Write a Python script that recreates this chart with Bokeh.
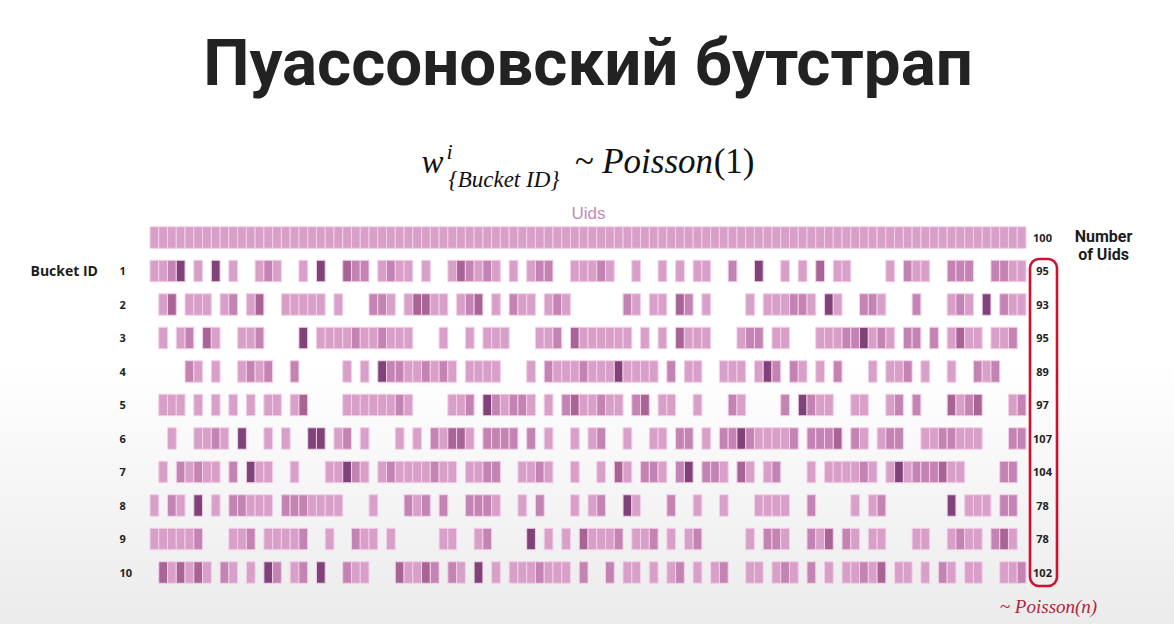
from bokeh.plotting import figure
from bokeh.models import Range1d, ColumnDataSource, BoxAnnotation
from bokeh.core.properties import value
from bokeh.embed import file_html
from bokeh.resources import INLINE

# ---------------- data ----------------
title_text = "Пуассоновский бутстрап"
bucket_ids = ["1", "2", "3", "4", "5", "6", "7", "8", "9", "10"]
uid_counts = ["100", "95", "93", "95", "89", "97", "107", "104", "78", "78", "102"]

uids_row = [1, 1, 1, 1, 1, 1, 1, 1, 1, 1,  1, 1, 1, 1, 1, 1, 1, 1, 1, 1,
            1, 1, 1, 1, 1, 1, 1, 1, 1, 1,  1, 1, 1, 1, 1, 1, 1, 1, 1, 1,
            1, 1, 1, 1, 1, 1, 1, 1, 1, 1,  1, 1, 1, 1, 1, 1, 1, 1, 1, 1,
            1, 1, 1, 1, 1, 1, 1, 1, 1, 1,  1, 1, 1, 1, 1, 1, 1, 1, 1, 1,
            1, 1, 1, 1, 1, 1, 1, 1, 1, 1,  1, 1, 1, 1, 1, 1, 1, 1, 1, 1]

bucket_1 = [1, 1, 2, 4, 0, 1, 0, 4, 0, 1,  0, 0, 1, 2, 1, 0, 0, 1, 0, 4,
            0, 0, 3, 2, 2, 0, 1, 2, 1, 1,  0, 1, 0, 0, 1, 3, 2, 1, 2, 1,
            0, 1, 0, 1, 2, 2, 0, 0, 1, 1,  1, 2, 1, 0, 0, 1, 0, 0, 1, 0,
            1, 0, 1, 1, 0, 0, 2, 0, 0, 4,  0, 0, 1, 0, 1, 0, 3, 0, 1, 1,
            0, 0, 0, 0, 1, 0, 2, 1, 1, 0,  0, 2, 2, 2, 0, 0, 2, 2, 1, 1]
bucket_2 = [0, 1, 3, 0, 1, 1, 1, 0, 1, 2,  0, 1, 3, 0, 0, 1, 1, 1, 1, 1,
            0, 1, 0, 0, 0, 2, 2, 1, 0, 1,  3, 3, 1, 1, 0, 1, 2, 3, 0, 1,
            0, 2, 1, 1, 0, 1, 2, 1, 0, 0,  0, 0, 0, 0, 2, 1, 0, 1, 1, 0,
            3, 2, 0, 1, 0, 0, 0, 0, 1, 0,  1, 1, 1, 2, 2, 1, 0, 4, 1, 0,
            0, 2, 2, 1, 0, 0, 0, 2, 0, 0,  0, 1, 2, 1, 0, 4, 0, 2, 1, 1]
bucket_3 = [0, 1, 0, 1, 2, 0, 3, 1, 0, 0,  1, 1, 2, 0, 0, 0, 0, 4, 0, 1,
            1, 1, 1, 2, 1, 1, 2, 1, 1, 1,  0, 0, 0, 1, 0, 0, 1, 0, 1, 1,
            1, 0, 0, 0, 1, 1, 2, 0, 3, 1,  1, 1, 1, 1, 1, 0, 1, 0, 1, 0,
            3, 1, 1, 1, 0, 0, 0, 1, 2, 2,  0, 1, 1, 0, 0, 0, 1, 1, 1, 2,
            2, 4, 1, 2, 1, 0, 2, 2, 0, 2,  0, 1, 3, 1, 1, 0, 1, 1, 2, 0]
bucket_4 = [0, 0, 0, 0, 2, 1, 0, 1, 0, 0,  1, 2, 1, 2, 0, 0, 2, 0, 0, 0,
            0, 0, 1, 0, 1, 0, 4, 2, 2, 1,  1, 2, 1, 2, 1, 0, 1, 1, 1, 1,
            0, 0, 0, 1, 0, 2, 1, 1, 1, 2,  1, 1, 1, 4, 1, 1, 1, 1, 0, 2,
            0, 1, 1, 0, 0, 1, 1, 1, 0, 1,  4, 2, 0, 2, 1, 0, 1, 0, 2, 0,
            0, 0, 1, 0, 1, 1, 2, 0, 1, 0,  0, 1, 0, 0, 2, 1, 2, 0, 0, 0]
bucket_5 = [0, 1, 1, 1, 0, 1, 0, 1, 0, 1,  0, 1, 0, 1, 1, 0, 1, 3, 0, 0,
            0, 0, 1, 1, 1, 1, 1, 1, 2, 1,  0, 0, 0, 0, 1, 1, 2, 0, 4, 2,
            1, 2, 2, 1, 0, 1, 0, 2, 3, 1,  1, 2, 1, 1, 0, 2, 3, 0, 1, 1,
            0, 0, 1, 0, 0, 0, 2, 1, 0, 0,  0, 0, 2, 0, 4, 2, 1, 1, 0, 0,
            1, 1, 0, 0, 1, 2, 0, 2, 0, 0,  0, 3, 1, 2, 3, 0, 0, 0, 1, 2]
bucket_6 = [0, 0, 1, 0, 0, 1, 1, 2, 1, 0,  4, 0, 0, 1, 0, 1, 0, 0, 4, 4,
            0, 1, 2, 0, 1, 0, 0, 0, 1, 0,  1, 0, 2, 1, 3, 3, 1, 0, 2, 2,
            2, 2, 0, 2, 0, 1, 0, 0, 1, 0,  1, 2, 0, 0, 1, 0, 0, 1, 1, 0,
            2, 2, 0, 1, 0, 2, 2, 4, 2, 1,  1, 1, 1, 2, 0, 2, 2, 2, 3, 0,
            2, 1, 0, 1, 2, 2, 0, 0, 1, 1,  2, 2, 1, 1, 1, 0, 0, 0, 2, 2]
bucket_7 = [0, 1, 0, 2, 1, 2, 1, 1, 0, 2,  0, 4, 1, 1, 0, 0, 1, 0, 0, 0,
            1, 1, 4, 2, 1, 0, 1, 2, 1, 1,  1, 1, 2, 1, 1, 0, 1, 1, 2, 2,
            0, 0, 1, 1, 2, 1, 0, 0, 1, 0,  0, 1, 0, 3, 1, 0, 2, 2, 1, 0,
            2, 4, 0, 2, 2, 1, 0, 3, 1, 0,  1, 2, 0, 0, 0, 1, 0, 1, 1, 1,
            1, 2, 1, 0, 1, 4, 1, 2, 2, 2,  3, 1, 1, 0, 0, 0, 0, 2, 2, 0]
bucket_8 = [1, 0, 2, 1, 0, 4, 0, 1, 0, 2,  2, 1, 1, 1, 0, 2, 2, 2, 1, 1,
            1, 1, 0, 0, 0, 1, 0, 0, 0, 2,  1, 2, 0, 2, 0, 0, 2, 2, 2, 1,
            0, 0, 1, 0, 2, 0, 0, 0, 1, 0,  1, 2, 0, 0, 4, 1, 0, 0, 0, 2,
            0, 0, 1, 0, 0, 1, 0, 0, 0, 1,  1, 1, 1, 0, 0, 2, 0, 0, 0, 0,
            1, 0, 1, 2, 0, 0, 0, 0, 0, 0,  0, 4, 0, 1, 1, 1, 0, 2, 2, 0]
bucket_9 = [1, 1, 1, 1, 1, 2, 0, 0, 0, 1,  1, 2, 0, 1, 1, 1, 1, 2, 0, 0,
            1, 0, 0, 2, 1, 1, 0, 1, 0, 0,  0, 0, 0, 1, 1, 0, 0, 1, 2, 0,
            0, 0, 0, 4, 0, 1, 0, 1, 0, 3,  1, 1, 1, 2, 0, 1, 1, 2, 0, 1,
            0, 1, 2, 0, 0, 0, 0, 0, 1, 0,  2, 2, 1, 0, 0, 2, 1, 3, 0, 2,
            1, 0, 1, 1, 0, 0, 0, 1, 1, 0,  0, 1, 2, 1, 1, 0, 2, 3, 1, 0]
bucket_10 = [0, 3, 1, 3, 1, 3, 1, 0, 2, 1,  0, 1, 0, 4, 2, 0, 1, 2, 0, 4,
             0, 0, 2, 1, 1, 0, 0, 0, 3, 1,  1, 3, 2, 0, 2, 1, 0, 4, 0, 1,
             0, 1, 1, 1, 2, 1, 1, 1, 0, 2,  0, 0, 2, 0, 1, 1, 0, 1, 0, 1,
             2, 0, 1, 0, 1, 2, 0, 0, 1, 1,  0, 1, 2, 1, 0, 2, 0, 1, 0, 1,
             1, 2, 1, 3, 0, 1, 1, 0, 1, 0,  2, 1, 0, 1, 1, 0, 0, 1, 1, 2]

rows = [uids_row, bucket_1, bucket_2, bucket_3, bucket_4, bucket_5,
        bucket_6, bucket_7, bucket_8, bucket_9, bucket_10]

weight_colors = {1: "#d8a0c9", 2: "#c383b3", 3: "#a76495", 4: "#7f4379"}

# ---------------- geometry helpers (pixel -> data) ----------------
W, H = 1174, 624
CW = 8.76          # px per uid column
X0 = 149.5         # px of column 0 left edge
RP = 33.5          # px per row
Y0 = 237.0         # px of row 0 centre
BL = 0.40          # empirical baseline correction (fraction of font size)


def px(xp):
    return (xp - X0) / CW


def py(yp):
    return (yp - Y0) / RP


def pyb(yp, size):
    # desired alphabetic baseline at pixel yp for a font of `size` px
    return py(yp - BL * size)


p = figure(width=W, height=H, output_backend="svg", toolbar_location=None,
           x_range=Range1d(px(0), px(W)), y_range=Range1d(py(H), py(0)),
           min_border=0, x_axis_location=None, y_axis_location=None)
p.grid.visible = False
p.outline_line_color = None
p.background_fill_color = None
p.border_fill_color = None
p.styles = {"background": "linear-gradient(to bottom, #ffffff 0%, #ffffff 58%, #ebebeb 100%)"}

# cells
xs, ys, cols = [], [], []
for r, row in enumerate(rows):
    for c, w in enumerate(row):
        if w > 0:
            xs.append(c + 0.5)
            ys.append(r)
            cols.append(weight_colors[min(w, 4)])
src = ColumnDataSource(dict(x=xs, y=ys, color=cols))
p.rect(x="x", y="y", width=1.0, height=21.5 / RP, fill_color="color",
       line_color="#f3cfe8", line_width=1, source=src)

# bucket id labels
p.text(x=[px(119)] * len(bucket_ids), y=list(range(1, len(bucket_ids) + 1)),
       text=bucket_ids, text_font=value("Open Sans"), text_font_size="11px",
       text_font_style="bold", text_color="#222222",
       text_align="left", text_baseline="middle")

# counts on the right
p.text(x=[px(1042)] * len(uid_counts), y=list(range(len(uid_counts))),
       text=uid_counts, text_font=value("Open Sans"), text_font_size="11px",
       text_font_style="bold", text_color="#222222",
       text_align="center", text_baseline="middle")

# title
p.text(x=[px(587.5)], y=[pyb(88, 65.5)], text=[title_text],
       text_font=value("Roboto"), text_font_size="65.5px", text_font_style="bold",
       text_color="#222222", text_align="center", text_baseline="alphabetic")

# formula  w^i_{Bucket ID} ~ Poisson(1)
p.text(x=[px(421)], y=[pyb(175, 33)], text=["w"], text_font=value("Liberation Serif"),
       text_font_size="33px", text_font_style="italic", text_color="#111111",
       text_align="left", text_baseline="alphabetic")
p.text(x=[px(446)], y=[pyb(160, 22)], text=["i"], text_font=value("Liberation Serif"),
       text_font_size="22px", text_font_style="italic", text_color="#111111",
       text_align="left", text_baseline="alphabetic")
p.text(x=[px(448)], y=[pyb(188, 23)], text=["{Bucket ID}"], text_font=value("Liberation Serif"),
       text_font_size="23px", text_font_style="italic", text_color="#111111",
       text_align="left", text_baseline="alphabetic")
p.text(x=[px(574)], y=[pyb(175, 35)], text=["~ Poisson"], text_font=value("Liberation Serif"),
       text_font_size="35px", text_font_style="italic", text_color="#111111",
       text_align="left", text_baseline="alphabetic")
p.text(x=[px(754)], y=[pyb(175, 35)], text=["(1)"], text_font=value("Liberation Serif"),
       text_font_size="35px", text_color="#111111",
       text_align="right", text_baseline="alphabetic")

# Uids header
p.text(x=[px(588)], y=[py(213)], text=["Uids"], text_font=value("Liberation Sans"),
       text_font_size="17px", text_color="#c48ab6",
       text_align="center", text_baseline="middle")

# Bucket ID label
p.text(x=[px(30)], y=[py(270)], text=["Bucket ID"], text_font=value("Open Sans"),
       text_font_size="14px", text_font_style="bold", text_color="#1c1c1c",
       text_align="left", text_baseline="middle")

# Number of Uids
p.text(x=[px(1103), px(1103)], y=[py(236), py(254)], text=["Number", "of Uids"],
       text_font=value("Roboto"), text_font_size="16px", text_font_style="bold",
       text_color="#1c1c1c", text_align="center", text_baseline="middle")

# red rounded box around counts
box = BoxAnnotation(left=px(1029.5), right=px(1056.5), top=py(258.5), bottom=py(585.5),
                    fill_alpha=0, line_color="#cc1230", line_alpha=1.0, line_width=2.6,
                    border_radius=9)
p.add_layout(box)

# ~ Poisson(n)
p.text(x=[px(1048)], y=[pyb(614, 19)], text=["~ Poisson(n)"], text_font=value("Liberation Serif"),
       text_font_size="19px", text_font_style="italic", text_color="#b3253c",
       text_align="center", text_baseline="alphabetic")

open("out.html", "w").write(file_html(p, INLINE))
